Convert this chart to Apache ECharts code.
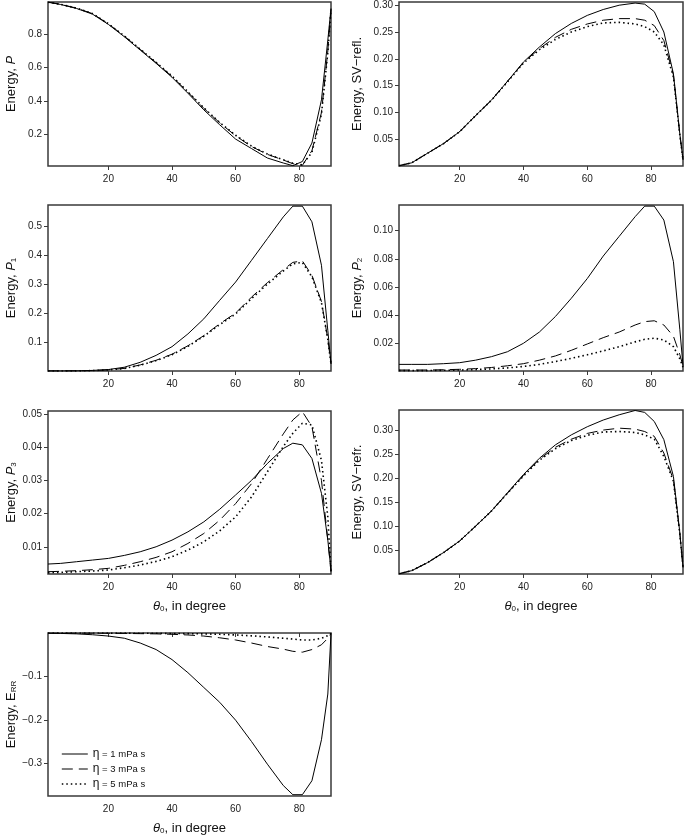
<!DOCTYPE html>
<html>
<head>
<meta charset="utf-8">
<script src="https://cdn.jsdelivr.net/npm/echarts@6/dist/echarts.min.js"></script>
<style>
html,body{margin:0;padding:0;background:#fff;}
#c{width:685px;height:836px;}
</style>
</head>
<body>
<div id="c"></div>
<script>
// incidence angle theta_0 in degree
const theta = [1,5,10,15,20,25,30,35,40,45,50,55,60,65,70,75,78,81,84,87,89,90];
const xTicks = [20,40,60,80];
const legendNames = ['η = 1 mPa s','η = 3 mPa s','η = 5 mPa s'];

// Panel: Energy, P
const p_eta1 = [0.994,0.98,0.956,0.922,0.86,0.786,0.706,0.626,0.542,0.446,0.346,0.256,0.17,0.113,0.056,0.026,0.01,0.035,0.146,0.406,0.766,0.956];
const p_eta3 = [0.994,0.981,0.958,0.925,0.863,0.79,0.71,0.63,0.547,0.452,0.355,0.268,0.19,0.125,0.078,0.044,0.022,0.012,0.1,0.33,0.7,0.95];
const p_eta5 = [0.994,0.981,0.958,0.925,0.864,0.791,0.711,0.632,0.549,0.455,0.358,0.27,0.193,0.128,0.08,0.046,0.025,0.015,0.09,0.32,0.69,0.95];
// Panel: Energy, SV-refl.
const svRefl_eta1 = [0.0005,0.006,0.024,0.042,0.064,0.094,0.123,0.158,0.194,0.222,0.247,0.266,0.281,0.292,0.3,0.304,0.302,0.288,0.25,0.172,0.06,0.012];
const svRefl_eta3 = [0.0005,0.006,0.024,0.042,0.064,0.094,0.123,0.158,0.193,0.219,0.24,0.255,0.265,0.272,0.275,0.275,0.272,0.262,0.234,0.17,0.06,0.012];
const svRefl_eta5 = [0.0005,0.006,0.024,0.042,0.064,0.094,0.123,0.157,0.192,0.217,0.236,0.25,0.26,0.267,0.268,0.265,0.26,0.25,0.226,0.166,0.058,0.012];
// Panel: Energy, P1
const p1_eta1 = [0,0,0.0005,0.002,0.005,0.013,0.03,0.054,0.084,0.128,0.18,0.244,0.307,0.382,0.457,0.532,0.569,0.569,0.515,0.365,0.14,0.025];
const p1_eta3 = [0,0,0.0003,0.0015,0.004,0.009,0.021,0.037,0.058,0.087,0.122,0.163,0.2,0.255,0.305,0.35,0.375,0.38,0.33,0.24,0.11,0.025];
const p1_eta5 = [0,0,0.0003,0.0014,0.0038,0.0087,0.02,0.036,0.056,0.085,0.12,0.16,0.197,0.25,0.3,0.345,0.37,0.375,0.325,0.236,0.108,0.025];
// Panel: Energy, P2
const p2_eta1 = [0.005,0.005,0.005,0.0055,0.0062,0.008,0.0105,0.014,0.02,0.028,0.039,0.052,0.066,0.082,0.096,0.11,0.1175,0.1175,0.1076,0.078,0.03,0.004];
const p2_eta3 = [0.001,0.001,0.001,0.0012,0.0015,0.002,0.0028,0.004,0.0055,0.008,0.011,0.015,0.0195,0.024,0.028,0.033,0.0354,0.036,0.033,0.025,0.012,0.004];
const p2_eta5 = [0.0006,0.0006,0.0006,0.0008,0.001,0.0013,0.0018,0.0025,0.0035,0.005,0.007,0.0093,0.0118,0.0146,0.0176,0.021,0.0228,0.0236,0.0224,0.0176,0.009,0.003];
// Panel: Energy, P3
const p3_eta1 = [0.0048,0.005,0.0055,0.006,0.0065,0.0074,0.0085,0.01,0.012,0.0145,0.0175,0.0213,0.0256,0.03,0.0351,0.0396,0.0412,0.0407,0.0366,0.0261,0.012,0.003];
const p3_eta3 = [0.0025,0.0026,0.0028,0.0031,0.0035,0.0044,0.0055,0.0068,0.0085,0.011,0.014,0.018,0.023,0.029,0.0365,0.044,0.0482,0.0507,0.0462,0.03,0.012,0.0025];
const p3_eta5 = [0.0022,0.0023,0.0025,0.0027,0.003,0.0037,0.0045,0.0056,0.007,0.009,0.0115,0.0148,0.019,0.025,0.0326,0.0402,0.0442,0.0472,0.0467,0.036,0.019,0.0025];
// Panel: Energy, SV-refr.
const svRefr_eta1 = [0.0005,0.007,0.024,0.045,0.069,0.1,0.132,0.17,0.208,0.242,0.27,0.291,0.308,0.322,0.333,0.342,0.338,0.319,0.281,0.204,0.087,0.014];
const svRefr_eta3 = [0.0005,0.007,0.024,0.045,0.069,0.1,0.132,0.169,0.206,0.24,0.265,0.282,0.294,0.301,0.305,0.303,0.298,0.288,0.253,0.197,0.085,0.014];
const svRefr_eta5 = [0.0005,0.007,0.024,0.045,0.069,0.1,0.132,0.169,0.205,0.238,0.262,0.279,0.29,0.297,0.298,0.296,0.291,0.282,0.246,0.194,0.084,0.014];
// Panel: Energy, E_RR
const eRR_eta1 = [-0.0005,-0.001,-0.002,-0.004,-0.007,-0.012,-0.023,-0.038,-0.061,-0.091,-0.125,-0.159,-0.2,-0.249,-0.301,-0.35,-0.371,-0.371,-0.339,-0.245,-0.14,-0.001];
const eRR_eta3 = [0,0,0,-0.0003,-0.0005,-0.001,-0.0015,-0.002,-0.003,-0.0045,-0.007,-0.011,-0.016,-0.023,-0.031,-0.037,-0.042,-0.044,-0.038,-0.027,-0.012,-0.001];
const eRR_eta5 = [0,0,0,0,-0.0002,-0.0003,-0.0005,-0.0007,-0.001,-0.0015,-0.002,-0.003,-0.0045,-0.0065,-0.009,-0.012,-0.014,-0.016,-0.016,-0.012,-0.006,-0.001];

// y tick labels per panel
const yTicksP = [0.2,0.4,0.6,0.8];
const yTicksSVRefl = [0.05,0.10,0.15,0.20,0.25,0.30];
const yTicksP1 = [0.1,0.2,0.3,0.4,0.5];
const yTicksP2 = [0.02,0.04,0.06,0.08,0.10];
const yTicksP3 = [0.01,0.02,0.03,0.04,0.05];
const yTicksSVRefr = [0.05,0.10,0.15,0.20,0.25,0.30];
const yTicksERR = [-0.3,-0.2,-0.1];

const panels = [
  {grid:{left:48,top:2,width:283,height:164}, ymin:0.008, ymax:0.995, ticks:yTicksP, dec:1, gap:30,
   name:'{n|Energy, }{i|P}', series:[p_eta1,p_eta3,p_eta5], xname:false},
  {grid:{left:399,top:2,width:284,height:164}, ymin:0, ymax:0.306, ticks:yTicksSVRefl, dec:2, gap:35,
   name:'{n|Energy, SV−refl.}', series:[svRefl_eta1,svRefl_eta3,svRefl_eta5], xname:false},
  {grid:{left:48,top:205,width:283,height:166}, ymin:0, ymax:0.573, ticks:yTicksP1, dec:1, gap:30,
   name:'{n|Energy, }{i|P}{s|1}', series:[p1_eta1,p1_eta3,p1_eta5], xname:false},
  {grid:{left:399,top:205,width:284,height:166}, ymin:0.0003, ymax:0.1183, ticks:yTicksP2, dec:2, gap:35,
   name:'{n|Energy, }{i|P}{s|2}', series:[p2_eta1,p2_eta3,p2_eta5], xname:false},
  {grid:{left:48,top:411,width:283,height:163}, ymin:0.0018, ymax:0.0509, ticks:yTicksP3, dec:2, gap:30,
   name:'{n|Energy, }{i|P}{s|3}', series:[p3_eta1,p3_eta3,p3_eta5], xname:true},
  {grid:{left:399,top:410,width:284,height:164}, ymin:0, ymax:0.343, ticks:yTicksSVRefr, dec:2, gap:35,
   name:'{n|Energy, SV−refr.}', series:[svRefr_eta1,svRefr_eta3,svRefr_eta5], xname:true},
  {grid:{left:48,top:633,width:283,height:166}, ymin:-0.374, ymax:0, ticks:yTicksERR, dec:1, gap:30,
   name:'{n|Energy, E}{s|RR}', series:[eRR_eta1,eRR_eta3,eRR_eta5], xname:true}
];

const FONT = 'Liberation Sans, Arial, sans-serif';
const frame = '#3a3a3a';
const lineStyles = [
  {type:'solid', width:1},
  {type:[11,6], width:1},
  {type:[1.5,3], width:1.6}
];
const nameRich = {
  n:{fontSize:13, fontFamily:FONT, color:'#111'},
  i:{fontSize:13, fontFamily:FONT, fontStyle:'italic', color:'#111'},
  s:{fontSize:8, fontFamily:FONT, color:'#111', padding:[6,0,0,0]}
};

const grids=[], xAxes=[], yAxes=[], series=[];
panels.forEach((pn, k) => {
  grids.push(Object.assign({show:true, borderColor:frame, borderWidth:1.5, containLabel:false}, pn.grid));
  xAxes.push({
    type:'value', gridIndex:k, min:1, max:90,
    axisLine:{show:false}, splitLine:{show:false},
    axisTick:{show:true, customValues:xTicks, length:4, lineStyle:{color:frame}},
    axisLabel:{customValues:xTicks, fontSize:10, fontFamily:FONT, color:'#222', margin:8},
    name: pn.xname ? '{i|θ}{s|0}{n|, in degree}' : '',
    nameLocation:'middle', nameGap:25,
    nameTextStyle:{rich:nameRich}
  });
  yAxes.push({
    type:'value', gridIndex:k, min:pn.ymin, max:pn.ymax,
    axisLine:{show:false}, splitLine:{show:false},
    axisTick:{show:true, customValues:pn.ticks, length:4, lineStyle:{color:frame}},
    axisLabel:{customValues:pn.ticks, fontSize:10, fontFamily:FONT, color:'#222', margin:6,
      formatter:(v)=> (v<0?'−':'') + Math.abs(v).toFixed(pn.dec)},
    name:pn.name, nameLocation:'middle', nameRotate:90, nameGap:pn.gap,
    nameTextStyle:{rich:nameRich}
  });
  pn.series.forEach((arr, j) => {
    series.push({
      type:'line', name:legendNames[j], xAxisIndex:k, yAxisIndex:k,
      data: theta.map((t,i)=>[t, arr[i]]),
      showSymbol:false, symbol:'none', silent:true, animation:false,
      lineStyle:Object.assign({color:'#000'}, lineStyles[j]),
      itemStyle:{color:'#000'},
      z: 3-j
    });
  });
});

const chart = echarts.init(document.getElementById('c'), null, {renderer:'canvas'});
chart.setOption({
  animation:false,
  backgroundColor:'#fff',
  grid:grids, xAxis:xAxes, yAxis:yAxes, series:series,
  legend:{
    data: legendNames.map((n,j)=>({
      name:n,
      itemStyle:{opacity:0, borderWidth:0},
      lineStyle:Object.assign({color:'#000'}, lineStyles[j])
    })),
    orient:'vertical', left:61, top:748, itemWidth:26, itemHeight:10, itemGap:3,
    selectedMode:false, padding:0,
    formatter:(n)=>'{e|η}{t|' + n.slice(1) + '}',
    textStyle:{rich:{e:{fontSize:12, fontFamily:FONT, color:'#111'}, t:{fontSize:9.5, fontFamily:FONT, color:'#111'}}}
  }
});
</script>
</body>
</html>
